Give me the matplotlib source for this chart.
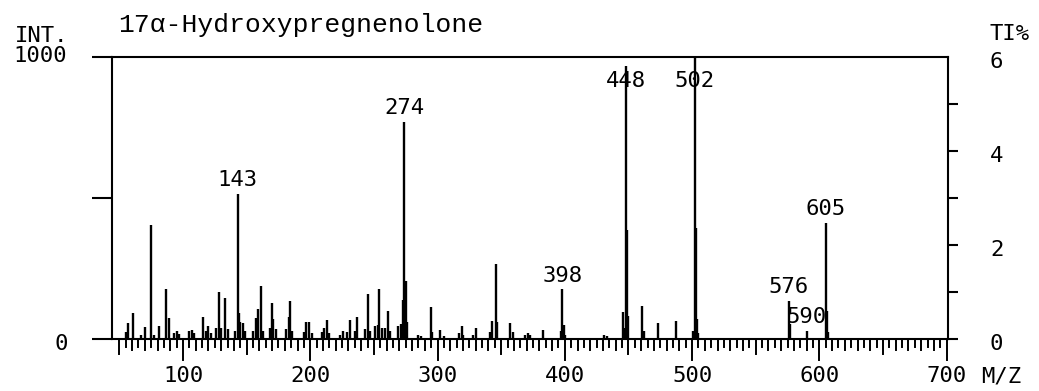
import matplotlib
matplotlib.use('Agg')
import matplotlib.pyplot as plt
from matplotlib.transforms import offset_copy, blended_transform_factory

title = '17\u03b1-Hydroxypregnenolone'

# m/z and relative intensity (base peak = 1000)
mz = [55, 57, 61, 67, 70, 75, 77, 81, 87, 89, 93, 95, 97,
      105, 107, 109, 116, 118, 120, 122, 126, 128, 130, 133, 135,
      141, 143, 144, 145, 147, 149, 155, 157, 159, 161, 163,
      168, 170, 171, 173, 181, 183, 184, 186, 195, 197, 199, 201,
      209, 211, 213, 215, 223, 226, 229, 231, 235, 237,
      243, 245, 247, 251, 253, 254, 256, 259, 261, 263,
      269, 271, 273, 274, 275, 276, 285, 287, 295, 296, 302, 305,
      317, 319, 320, 328, 330, 341, 343, 346, 347, 357, 359,
      369, 371, 373, 383, 397, 398, 399, 400, 431, 433,
      446, 447, 448, 449, 450, 461, 462, 473, 487,
      501, 502, 503, 504, 505, 576, 577, 590, 605, 606, 607]
intensity = [25, 55, 92, 15, 43, 406, 15, 45, 176, 75, 20, 28, 18,
             28, 32, 20, 78, 30, 45, 20, 40, 168, 40, 145, 35,
             30, 515, 92, 60, 55, 30, 30, 76, 106, 188, 30,
             40, 126, 70, 35, 35, 78, 136, 30, 25, 60, 60, 20,
             25, 40, 68, 20, 15, 30, 25, 68, 30, 78,
             35, 160, 30, 45, 50, 178, 40, 40, 100, 30,
             45, 52, 140, 770, 205, 60, 15, 12, 115, 25, 33, 12,
             20, 47, 15, 15, 40, 25, 63, 267, 60, 58, 25,
             15, 23, 15, 32, 30, 176, 50, 15, 15, 12,
             96, 40, 968, 388, 80, 118, 30, 57, 65,
             30, 1000, 394, 70, 20, 135, 53, 30, 412, 100, 25]

labeled = [143, 274, 398, 448, 502, 576, 590, 605]

int_ticks = [0, 500, 1000]
ti_ticks = [0, 1, 2, 3, 4, 5]
ti_labels = [0, 2, 4, 6]
mz_labels = [100, 200, 300, 400, 500, 600, 700]

mono = 'DejaVu Sans Mono'
fs = 16

fig = plt.figure(figsize=(10.39, 3.91), dpi=100)
ax = fig.add_axes([112 / 1039, 52 / 391, 836 / 1039, 282 / 391])
ax.set_xlim(44.2, 701.1)
ax.set_ylim(0, 1000)

for side in ['left', 'right', 'top', 'bottom']:
    ax.spines[side].set_linewidth(1.5)

# left intensity ticks point outward, no tick labels
ax.set_yticks(int_ticks)
ax.set_yticklabels([])
ax.tick_params(axis='y', direction='out', length=14.4, width=1.5)
ax.set_xticks([])

# right TI% scale
sec = ax.secondary_yaxis('right', functions=(lambda y: y * 6 / 1000, lambda t: t * 1000 / 6))
sec.set_yticks(ti_ticks)
sec.set_yticklabels([])
sec.tick_params(direction='out', length=7.2, width=1.5)
sec.spines['right'].set_visible(False)

# spectrum sticks
ax.vlines(mz, 0, intensity, color='black', lw=1.7)

# m/z ruler below the baseline
xtrans = ax.get_xaxis_transform()
for m in range(50, 701, 5):
    if m % 100 == 0:
        L = 21
    elif m % 50 == 0:
        L = 15
    elif m % 10 == 0:
        L = 11
    else:
        L = 8
    ax.plot([m, m], [0, -L / 282], color='black', lw=1.4,
            transform=xtrans, clip_on=False)


def put(x, y, s, trans, dx=0, dy=0, **kw):
    t = offset_copy(trans, fig=fig, x=dx, y=dy, units='dots')
    ax.text(x, y, s, transform=t, fontfamily=mono, fontsize=fs,
            clip_on=False, **kw)


ytrans = blended_transform_factory(ax.transAxes, ax.transData)

for m in mz_labels:
    put(m, 0, str(m), ax.transData, dy=-37, ha='center', va='center')
put(1.0634, 0, 'M/Z', ytrans, dy=-37, ha='center', va='center')

put(-0.0538, 1000, '1000', ytrans, dy=1, ha='right', va='center')
put(-0.0526, 0, '0', ytrans, dy=-5, ha='right', va='center')
put(-0.116, 1000, 'INT.', ytrans, dy=21, ha='left', va='center')

for t in ti_labels:
    put(1.0502, t * 1000 / 6, str(t), ytrans, dy=-5, ha='left', va='center')
put(1.0502, 1000, 'TI%', ytrans, dy=23, ha='left', va='center')

# peak annotations
peak = dict(zip(mz, intensity))
for m in labeled:
    y = min(peak[m] + 48, 915)
    put(m, y, str(m), ax.transData, ha='center', va='center')

fig.text(118 / 1039, 1 - 32 / 391, title, va='baseline',
         fontfamily=['Liberation Mono', 'DejaVu Sans Mono'], fontsize=19)

fig.savefig('out.png', dpi=100)
